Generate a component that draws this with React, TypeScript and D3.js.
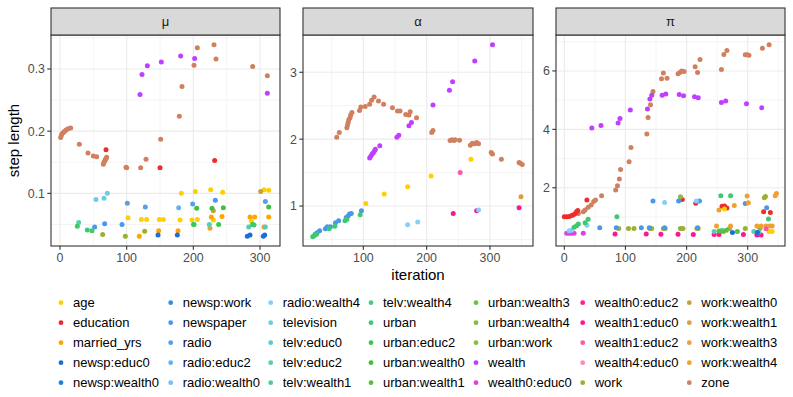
import React from "react";
import * as d3 from "d3";

const seriesNames = [
  "age", "education", "married_yrs", "newsp:educ0", "newsp:wealth0",
  "newsp:work", "newspaper", "radio", "radio:educ2", "radio:wealth0",
  "radio:wealth4", "television", "telv:educ0", "telv:educ2", "telv:wealth1",
  "telv:wealth4", "urban", "urban:educ2", "urban:wealth0", "urban:wealth1",
  "urban:wealth3", "urban:wealth4", "urban:work", "wealth", "wealth0:educ0",
  "wealth0:educ2", "wealth1:educ0", "wealth1:educ2", "wealth4:educ0", "work",
  "work:wealth0", "work:wealth1", "work:wealth3", "work:wealth4", "zone",
];
const seriesColors = [
  "#FFD000", "#EE2C2C", "#FFA500", "#1C6FD6", "#2080E0",
  "#3A8EE0", "#4A98E8", "#55A0E8", "#66B0F0", "#78BEF5",
  "#87CEFA", "#6CCDDD", "#5ACCC8", "#58CCB4", "#50CC98",
  "#48CC80", "#40C870", "#38C850", "#40C040", "#58C040",
  "#70C040", "#80C040", "#8CBC40", "#BF3EFF", "#E040E0",
  "#FF2090", "#FF1493", "#FF5AA0", "#FF8CB0", "#9AB030",
  "#C8A040", "#D8A040", "#E8A040", "#F0A030", "#D0805E",
];

const panelTitles = ["\u03bc", "\u03b1", "\u03c0"];
const xDomains = [[-13.5, 330], [4.7, 368], [-13.6, 361]];
const yDomains = [[0.0154, 0.3546], [0.403, 3.557], [0.007, 7.23]];
const xMajor = [[0, 100, 200, 300], [100, 200, 300], [0, 100, 200, 300]];
const xMinor = [[50, 150, 250], [50, 150, 250, 350], [50, 150, 250, 350]];
const yMajor = [[0.1, 0.2, 0.3], [1, 2, 3], [2, 4, 6]];
const yMinor = [[0.05, 0.15, 0.25, 0.35], [0.5, 1.5, 2.5, 3.5], [1, 3, 5, 7]];
const yLabels = [["0.1", "0.2", "0.3"], ["1", "2", "3"], ["2", "4", "6"]];

type P = [string, number, number];

const muPoints: P[] = [
  ["zone", 1, 0.19], ["zone", 2, 0.193], ["zone", 3, 0.196], ["zone", 5, 0.198], ["zone", 7, 0.2],
  ["zone", 9, 0.202], ["zone", 12, 0.204], ["zone", 16, 0.205], ["zone", 29, 0.179], ["zone", 42, 0.165],
  ["zone", 50, 0.16], ["zone", 55, 0.159], ["zone", 65, 0.147], ["zone", 66, 0.15], ["zone", 67, 0.152],
  ["zone", 68, 0.154], ["zone", 69, 0.156], ["zone", 70, 0.158], ["zone", 99, 0.142], ["zone", 100, 0.141],
  ["zone", 121, 0.141], ["zone", 129, 0.155], ["zone", 151, 0.187], ["zone", 179, 0.224], ["zone", 183, 0.272],
  ["zone", 201, 0.306], ["zone", 206, 0.334], ["zone", 231, 0.339], ["zone", 234, 0.316], ["zone", 289, 0.304],
  ["zone", 311, 0.289],
  ["wealth", 120, 0.259], ["wealth", 123, 0.291], ["wealth", 131, 0.305], ["wealth", 152, 0.311],
  ["wealth", 181, 0.321], ["wealth", 202, 0.317], ["wealth", 311, 0.261],
  ["education", 69, 0.17], ["education", 150, 0.141], ["education", 232, 0.153],
  ["age", 102, 0.061], ["age", 122, 0.058], ["age", 130, 0.058], ["age", 149, 0.058], ["age", 155, 0.058],
  ["age", 180, 0.057], ["age", 182, 0.1], ["age", 198, 0.057], ["age", 203, 0.103], ["age", 206, 0.058],
  ["age", 226, 0.106], ["age", 230, 0.057], ["age", 244, 0.102], ["age", 287, 0.055], ["age", 306, 0.106],
  ["age", 313, 0.105],
  ["married_yrs", 119, 0.031], ["married_yrs", 148, 0.04], ["married_yrs", 177, 0.04], ["married_yrs", 227, 0.062],
  ["married_yrs", 243, 0.063], ["married_yrs", 285, 0.062], ["married_yrs", 292, 0.062], ["married_yrs", 313, 0.062],
  ["work:wealth4", 225, 0.044], ["work:wealth4", 306, 0.046],
  ["work:wealth0", 230, 0.072], ["work:wealth0", 301, 0.103],
  ["newsp:educ0", 147, 0.033], ["newsp:educ0", 176, 0.033], ["newsp:educ0", 281, 0.031], ["newsp:educ0", 285, 0.033],
  ["newsp:educ0", 305, 0.031], ["newsp:educ0", 307, 0.033],
  ["newspaper", 52, 0.046], ["newspaper", 67, 0.051], ["newspaper", 93, 0.05], ["radio", 101, 0.084],
  ["radio", 128, 0.078], ["radio:educ2", 178, 0.077], ["radio", 199, 0.083], ["newspaper", 233, 0.089],
  ["radio", 308, 0.087],
  ["television", 54, 0.09], ["television", 66, 0.092], ["television", 71, 0.1],
  ["telv:educ2", 28, 0.053], ["telv:educ2", 200, 0.05], ["telv:educ2", 224, 0.05], ["telv:educ2", 283, 0.046],
  ["telv:educ2", 308, 0.046],
  ["urban", 26, 0.047], ["urban", 41, 0.041], ["urban", 48, 0.04], ["urban:educ2", 201, 0.05],
  ["urban:wealth0", 205, 0.076], ["urban:wealth0", 228, 0.076], ["urban:educ2", 238, 0.05],
  ["urban:wealth0", 245, 0.077], ["urban:educ2", 289, 0.05], ["urban", 291, 0.049], ["urban:wealth0", 313, 0.078],
  ["work", 64, 0.034], ["work", 98, 0.031], ["work", 127, 0.039],
];

const alphaPoints: P[] = [
  ["zone", 58, 2.03], ["zone", 62, 2.1], ["zone", 74, 2.17], ["zone", 75, 2.21], ["zone", 76, 2.25],
  ["zone", 77, 2.29], ["zone", 79, 2.32], ["zone", 80, 2.36], ["zone", 82, 2.4], ["zone", 94, 2.43],
  ["zone", 96, 2.48], ["zone", 103, 2.49], ["zone", 110, 2.52], ["zone", 113, 2.58], ["zone", 117, 2.63],
  ["zone", 124, 2.57], ["zone", 132, 2.52], ["zone", 146, 2.47], ["zone", 154, 2.42], ["zone", 158, 2.42],
  ["zone", 167, 2.37], ["zone", 172, 2.36], ["zone", 174, 2.41], ["zone", 184, 2.32], ["zone", 208, 2.1],
  ["zone", 210, 2.13], ["zone", 237, 1.98], ["zone", 240, 1.99], ["zone", 243, 1.98], ["zone", 245, 1.99],
  ["zone", 252, 1.985], ["zone", 269, 1.91], ["zone", 272, 1.94], ["zone", 276, 1.93], ["zone", 279, 1.95],
  ["zone", 282, 1.93], ["zone", 302, 1.8], ["zone", 304, 1.78], ["zone", 318, 1.7], ["zone", 346, 1.65],
  ["zone", 348, 1.64], ["zone", 351, 1.62],
  ["wealth", 110, 1.72], ["wealth", 112, 1.75], ["wealth", 114, 1.78], ["wealth", 116, 1.8], ["wealth", 118, 1.83],
  ["wealth", 119, 1.85], ["wealth", 126, 1.9], ["wealth", 153, 2.03], ["wealth", 156, 2.06], ["wealth", 172, 2.2],
  ["wealth", 176, 2.25], ["wealth", 210, 2.51], ["wealth", 236, 2.73], ["wealth", 241, 2.86], ["wealth", 276, 3.17],
  ["wealth", 304, 3.41],
  ["age", 104, 1.04], ["age", 133, 1.18], ["age", 170, 1.29], ["age", 207, 1.45], ["age", 270, 1.7],
  ["work:wealth1", 349, 1.14], ["wealth1:educ2", 253, 1.5],
  ["wealth1:educ0", 242, 0.89], ["wealth1:educ0", 279, 0.93], ["wealth1:educ0", 346, 0.975],
  ["radio:wealth4", 170, 0.72], ["radio:wealth4", 186, 0.76], ["radio:wealth4", 282, 0.94],
  ["newspaper", 24, 0.58], ["newspaper", 27, 0.6], ["newspaper", 31, 0.63], ["newspaper", 40, 0.66],
  ["newspaper", 43, 0.69], ["newspaper", 48, 0.69], ["newspaper", 56, 0.75], ["newspaper", 61, 0.78],
  ["newspaper", 73, 0.83], ["newspaper", 76, 0.85], ["newspaper", 78, 0.88], ["newspaper", 81, 0.89],
  ["newspaper", 97, 0.93],
  ["urban", 20, 0.54], ["urban", 23, 0.56], ["urban", 26, 0.58], ["urban", 46, 0.66], ["urban", 55, 0.7],
  ["urban", 71, 0.78], ["urban", 74, 0.8], ["urban", 95, 0.87],
];

const piPoints: P[] = [
  ["zone", 23, 1.12], ["zone", 31, 1.18], ["zone", 34, 1.24], ["zone", 39, 1.33], ["zone", 44, 1.41],
  ["zone", 48, 1.53], ["zone", 51, 1.58], ["zone", 61, 1.73], ["zone", 84, 1.92], ["zone", 87, 2.07],
  ["zone", 90, 2.3], ["zone", 92, 2.63], ["zone", 106, 2.89], ["zone", 109, 3.38], ["zone", 135, 3.84],
  ["zone", 137, 4.41], ["zone", 141, 4.84], ["zone", 145, 5.3], ["zone", 159, 5.73], ["zone", 162, 5.93],
  ["zone", 168, 5.75], ["zone", 186, 5.9], ["zone", 189, 5.95], ["zone", 192, 6.0], ["zone", 196, 5.98],
  ["zone", 214, 6.14], ["zone", 218, 5.95], ["zone", 222, 6.39], ["zone", 257, 6.05], ["zone", 261, 6.56],
  ["zone", 266, 6.7], ["zone", 296, 6.55], ["zone", 299, 6.55], ["zone", 302, 6.54], ["zone", 324, 6.78],
  ["zone", 335, 6.9],
  ["wealth", 45, 4.05], ["wealth", 60, 4.13], ["wealth", 88, 4.22], ["wealth", 91, 4.37], ["wealth", 108, 4.66],
  ["wealth", 136, 4.7], ["wealth", 140, 5.04], ["wealth", 143, 5.17], ["wealth", 160, 5.17], ["wealth", 166, 5.21],
  ["wealth", 188, 5.19], ["wealth", 195, 5.15], ["wealth", 213, 5.12], ["wealth", 219, 5.08], ["wealth", 257, 4.92],
  ["wealth", 264, 4.97], ["wealth", 298, 4.88], ["wealth", 323, 4.74],
  ["education", 0, 1.01], ["education", 4, 1.01], ["education", 8, 1.02], ["education", 12, 1.05],
  ["education", 15, 1.08], ["education", 18, 1.12], ["education", 20, 1.18], ["education", 22, 1.22],
  ["education", 37, 1.58], ["education", 193, 1.6], ["education", 215, 1.47], ["education", 258, 1.37],
  ["education", 262, 1.38], ["education", 266, 1.31], ["education", 326, 1.18], ["education", 337, 1.15],
  ["wealth0:educ0", 4, 0.44], ["wealth0:educ0", 8, 0.44], ["wealth0:educ0", 12, 0.44], ["wealth0:educ0", 16, 0.44],
  ["wealth0:educ0", 31, 0.44],
  ["wealth1:educ0", 83, 0.42], ["wealth1:educ0", 134, 0.42], ["wealth1:educ0", 158, 0.41], ["wealth1:educ0", 186, 0.41],
  ["wealth1:educ0", 211, 0.4], ["wealth1:educ0", 245, 0.4], ["wealth1:educ0", 253, 0.4], ["wealth1:educ0", 293, 0.4],
  ["wealth1:educ0", 315, 0.38], ["wealth1:educ0", 322, 0.38],
  ["work", 89, 0.61], ["work", 105, 0.61], ["work", 114, 0.61], ["work", 140, 0.61], ["work", 143, 0.61],
  ["work", 162, 0.61], ["work", 165, 0.61], ["work", 190, 0.61], ["work", 194, 0.61], ["work", 217, 0.61],
  ["work", 219, 0.61], ["work", 270, 0.61], ["work", 296, 0.61], ["work", 320, 0.61], ["work", 327, 1.66],
  ["work", 329, 1.7], ["urban:work", 190, 1.69],
  ["newspaper", 58, 0.63], ["newspaper", 85, 0.63], ["newspaper", 126, 0.63], ["newspaper", 139, 0.63],
  ["newspaper", 145, 1.55], ["newspaper", 164, 0.63], ["newspaper", 187, 1.55], ["newspaper", 218, 0.63],
  ["newspaper", 221, 1.55], ["newspaper", 296, 1.46], ["newspaper", 331, 1.32],
  ["radio:wealth4", 8, 0.53], ["radio:wealth4", 12, 0.55], ["radio:wealth4", 37, 0.72], ["radio:wealth4", 164, 1.5],
  ["radio:wealth4", 216, 1.55],
  ["urban", 16, 0.65], ["urban", 20, 0.7], ["urban", 23, 0.76], ["urban", 34, 0.8], ["urban", 39, 0.92],
  ["urban", 86, 1.01], ["urban", 256, 1.73], ["urban", 272, 1.73], ["urban", 334, 0.93],
  ["work:wealth4", 249, 0.69], ["work:wealth4", 253, 1.24], ["work:wealth4", 272, 0.69], ["work:wealth4", 278, 1.39],
  ["work:wealth4", 299, 1.72], ["work:wealth4", 301, 1.49], ["work:wealth4", 315, 0.69], ["work:wealth4", 322, 0.69],
  ["work:wealth4", 330, 0.69], ["work:wealth4", 336, 0.69], ["work:wealth4", 340, 0.69], ["work:wealth4", 345, 1.73],
  ["work:wealth4", 347, 1.8],
  ["age", 262, 1.27], ["age", 335, 0.5], ["age", 340, 0.5],
  ["telv:educ2", 245, 0.5], ["telv:educ2", 258, 0.55], ["telv:educ2", 310, 0.5], ["telv:educ2", 318, 0.48],
  ["urban:wealth1", 253, 0.52], ["urban:wealth1", 260, 0.5], ["urban:wealth1", 265, 0.55], ["urban:wealth1", 283, 0.5],
  ["newsp:educ0", 275, 0.47], ["newsp:educ0", 316, 0.47], ["wealth1:educ2", 330, 0.6],
];

const panelData = [muPoints, alphaPoints, piPoints];

const panelsX = [[51, 280], [303, 533], [556, 785]];
const stripTop = 8;
const panelTop = 35;
const panelBottom = 246;
const legendColX = [61, 170.7, 270.7, 371, 476, 582.7, 689.3];
const legendRowY = [302.7, 322.7, 342.7, 362.7, 382.7];

const font = "'Liberation Sans', Arial, Helvetica, sans-serif";
const colorScale = d3.scaleOrdinal<string, string>().domain(seriesNames).range(seriesColors);

export default function App() {
  return (
    <div style={{ position: "absolute", left: 0, top: 0 }}>
      <svg width={793} height={397} style={{ display: "block", fontFamily: font }}>
        <rect x={0} y={0} width={793} height={397} fill="#FFFFFF" />
        {panelsX.map(([x0, x1], i) => {
          const xs = d3.scaleLinear().domain(xDomains[i]).range([x0, x1]);
          const ys = d3.scaleLinear().domain(yDomains[i]).range([panelBottom, panelTop]);
          return (
            <g key={i}>
              <rect x={x0} y={panelTop} width={x1 - x0} height={panelBottom - panelTop} fill="#FFFFFF" />
              {xMinor[i].map((t) => (
                <line key={"xm" + t} x1={xs(t)} x2={xs(t)} y1={panelTop} y2={panelBottom} stroke="#EBEBEB" strokeWidth={0.55} />
              ))}
              {yMinor[i].filter((t) => ys(t) > panelTop && ys(t) < panelBottom).map((t) => (
                <line key={"ym" + t} x1={x0} x2={x1} y1={ys(t)} y2={ys(t)} stroke="#EBEBEB" strokeWidth={0.55} />
              ))}
              {xMajor[i].map((t) => (
                <line key={"xM" + t} x1={xs(t)} x2={xs(t)} y1={panelTop} y2={panelBottom} stroke="#EBEBEB" strokeWidth={1.1} />
              ))}
              {yMajor[i].map((t) => (
                <line key={"yM" + t} x1={x0} x2={x1} y1={ys(t)} y2={ys(t)} stroke="#EBEBEB" strokeWidth={1.1} />
              ))}
              {panelData[i].map(([s, it, v], k) => (
                <circle key={k} cx={xs(it)} cy={ys(v)} r={2.5} fill={colorScale(s)} />
              ))}
              <rect x={x0} y={panelTop} width={x1 - x0} height={panelBottom - panelTop} fill="none" stroke="#333333" strokeWidth={1.1} />
              <rect x={x0} y={stripTop} width={x1 - x0} height={panelTop - stripTop} fill="#D9D9D9" stroke="#333333" strokeWidth={1.1} />
              <text x={(x0 + x1) / 2} y={(stripTop + panelTop) / 2 + 4.5} textAnchor="middle" fontSize={13} fill="#1A1A1A">
                {panelTitles[i]}
              </text>
              {yMajor[i].map((t, k) => (
                <g key={"yt" + t}>
                  <line x1={x0 - 3.7} x2={x0} y1={ys(t)} y2={ys(t)} stroke="#333333" strokeWidth={1.1} />
                  <text x={x0 - 6} y={ys(t) + 4.4} textAnchor="end" fontSize={12.4} fill="#4D4D4D">{yLabels[i][k]}</text>
                </g>
              ))}
              {xMajor[i].map((t) => (
                <g key={"xt" + t}>
                  <line x1={xs(t)} x2={xs(t)} y1={panelBottom} y2={panelBottom + 3.7} stroke="#333333" strokeWidth={1.1} />
                  <text x={xs(t)} y={panelBottom + 15.5} textAnchor="middle" fontSize={12.4} fill="#4D4D4D">{t}</text>
                </g>
              ))}
            </g>
          );
        })}
        <text x={418} y={279.5} textAnchor="middle" fontSize={15} fill="#000000">iteration</text>
        <text transform={`translate(19,140.5) rotate(-90)`} textAnchor="middle" fontSize={15} fill="#000000">step length</text>
        {seriesNames.map((s, i) => {
          const col = Math.floor(i / 5);
          const row = i % 5;
          const cx = legendColX[col];
          const cy = legendRowY[row];
          return (
            <g key={s}>
              <circle cx={cx} cy={cy} r={2.4} fill={colorScale(s)} />
              <text x={cx + 12} y={cy + 4.6} fontSize={13} fill="#000000">{s}</text>
            </g>
          );
        })}
      </svg>
    </div>
  );
}
